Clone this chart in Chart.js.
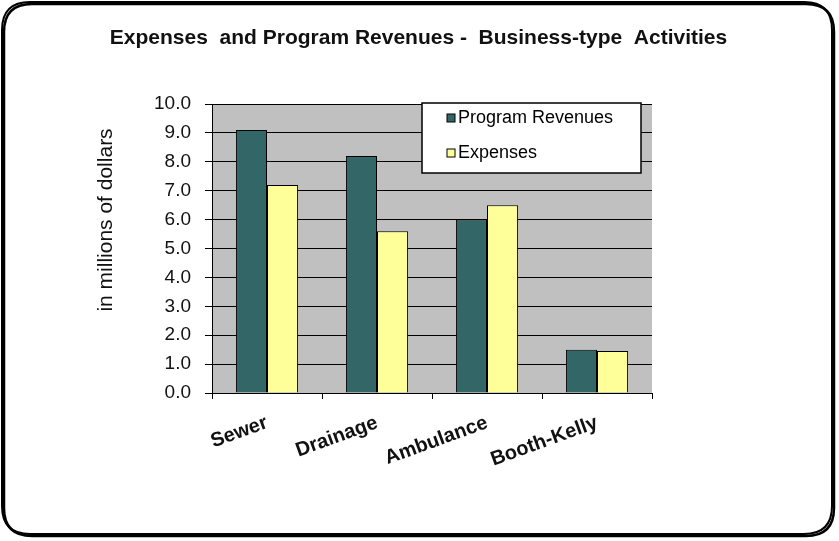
<!DOCTYPE html>
<html>
<head>
<meta charset="utf-8">
<script src="https://cdn.jsdelivr.net/npm/chart.js@4/dist/chart.umd.min.js"></script>
<style>
  html, body { margin: 0; padding: 0; background: #ffffff; }
  #wrap { width: 839px; height: 541px; position: relative; }
</style>
</head>
<body>
<div id="wrap"><canvas id="c" width="839" height="541"></canvas></div>
<script>
// Business-type activities, in millions of dollars
const categories = ['Sewer', 'Drainage', 'Ambulance', 'Booth-Kelly'];
const programRevenues = [9.1, 8.2, 6.0, 1.5];
const expenses = [7.2, 5.6, 6.5, 1.45];
const seriesNames = ['Program Revenues', 'Expenses'];
const chartTitle = 'Expenses  and Program Revenues -  Business-type  Activities';
const yTitle = 'in millions of dollars';

const FONT = "'Liberation Sans', Arial, sans-serif";

// Rounded outer frame with a dark drop edge, plus grey plot background
const framePlugin = {
  id: 'frame',
  beforeDraw(chart) {
    const ctx = chart.ctx;
    const W = chart.width, H = chart.height;
    ctx.save();
    ctx.fillStyle = '#ffffff';
    ctx.fillRect(0, 0, W, H);
    const rr = (x, y, w, h, r) => {
      ctx.beginPath();
      ctx.moveTo(x + r, y);
      ctx.lineTo(x + w - r, y);
      ctx.quadraticCurveTo(x + w, y, x + w, y + r);
      ctx.lineTo(x + w, y + h - r);
      ctx.quadraticCurveTo(x + w, y + h, x + w - r, y + h);
      ctx.lineTo(x + r, y + h);
      ctx.quadraticCurveTo(x, y + h, x, y + h - r);
      ctx.lineTo(x, y + r);
      ctx.quadraticCurveTo(x, y, x + r, y);
      ctx.closePath();
    };
    ctx.strokeStyle = '#000000';
    ctx.lineWidth = 2.5;
    rr(4, 4, W - 9, H - 9, 28);
    ctx.stroke();
    ctx.lineWidth = 2;
    rr(2, 2, W - 9, H - 9, 28);
    ctx.stroke();
    const a = chart.chartArea;
    ctx.fillStyle = '#c0c0c0';
    ctx.fillRect(a.left, a.top, a.right - a.left, a.bottom - a.top);
    ctx.restore();
  },
  afterDraw(chart) {
    const ctx = chart.ctx;
    const a = chart.chartArea;
    ctx.save();
    // heading, centred across the whole canvas
    ctx.font = 'bold 21px ' + FONT;
    ctx.fillStyle = '#111111';
    ctx.textAlign = 'center';
    ctx.textBaseline = 'middle';
    ctx.fillText(chartTitle, chart.width / 2 - 1, 38);
    // vertical axis caption, sitting a little above the plot's middle
    ctx.translate(a.left - 106, a.top + 116);
    ctx.rotate(-Math.PI / 2);
    ctx.font = '21px ' + FONT;
    ctx.fillText(yTitle, 0, 0);
    ctx.restore();
  }
};

// Boxed legend sitting inside the upper right of the plot
const boxLegendPlugin = {
  id: 'boxLegend',
  afterDatasetsDraw(chart) {
    const ctx = chart.ctx;
    const a = chart.chartArea;
    const bx = a.left + 210, by = a.top - 1, bw = 219, bh = 70;
    ctx.save();
    ctx.fillStyle = '#ffffff';
    ctx.fillRect(bx, by, bw, bh);
    ctx.strokeStyle = '#000000';
    ctx.lineWidth = 1.5;
    ctx.strokeRect(bx, by, bw, bh);
    ctx.font = '18px ' + FONT;
    ctx.textBaseline = 'middle';
    chart.data.datasets.forEach((ds, i) => {
      const cy = by + 15 + i * 35;
      ctx.fillStyle = ds.backgroundColor;
      ctx.fillRect(bx + 25, cy - 4, 8, 8);
      ctx.strokeStyle = '#000000';
      ctx.lineWidth = 1;
      ctx.strokeRect(bx + 25, cy - 4, 8, 8);
      ctx.fillStyle = '#000000';
      ctx.fillText(ds.label, bx + 36, cy);
    });
    ctx.restore();
  }
};

new Chart(document.getElementById('c'), {
  type: 'bar',
  data: {
    labels: categories,
    datasets: [
      { label: seriesNames[0], data: programRevenues, backgroundColor: '#336666',
        borderColor: '#000000', borderWidth: 1, borderSkipped: 'bottom' },
      { label: seriesNames[1], data: expenses, backgroundColor: '#ffff99',
        borderColor: '#000000', borderWidth: 1, borderSkipped: 'bottom' }
    ]
  },
  options: {
    responsive: false,
    animation: false,
    layout: { padding: { left: 95, right: 187, top: 104, bottom: 0 } },
    datasets: { bar: { categoryPercentage: 0.565, barPercentage: 1.0 } },
    plugins: {
      legend: { display: false },
      tooltip: { enabled: false },
      title: { display: false }
    },
    scales: {
      x: {
        afterFit(s) { s.height = 148; },
        border: { color: '#000000', width: 1 },
        grid: { display: true, drawOnChartArea: false, drawTicks: true, tickLength: 6, color: '#000000', offset: true },
        ticks: {
          color: '#111111',
          font: { family: FONT, size: 20, weight: 'bold' },
          minRotation: 20, maxRotation: 20, padding: 12
        }
      },
      y: {
        min: 0, max: 10,
        afterFit(s) { s.width = 117; },
        border: { color: '#000000', width: 1 },
        grid: { color: '#000000', lineWidth: 1, tickLength: 7, drawTicks: true },
        ticks: {
          stepSize: 1,
          color: '#111111',
          font: { family: FONT, size: 19 },
          padding: 14,
          callback: v => Number(v).toFixed(1)
        }
      }
    }
  },
  plugins: [framePlugin, boxLegendPlugin]
});
</script>
</body>
</html>
